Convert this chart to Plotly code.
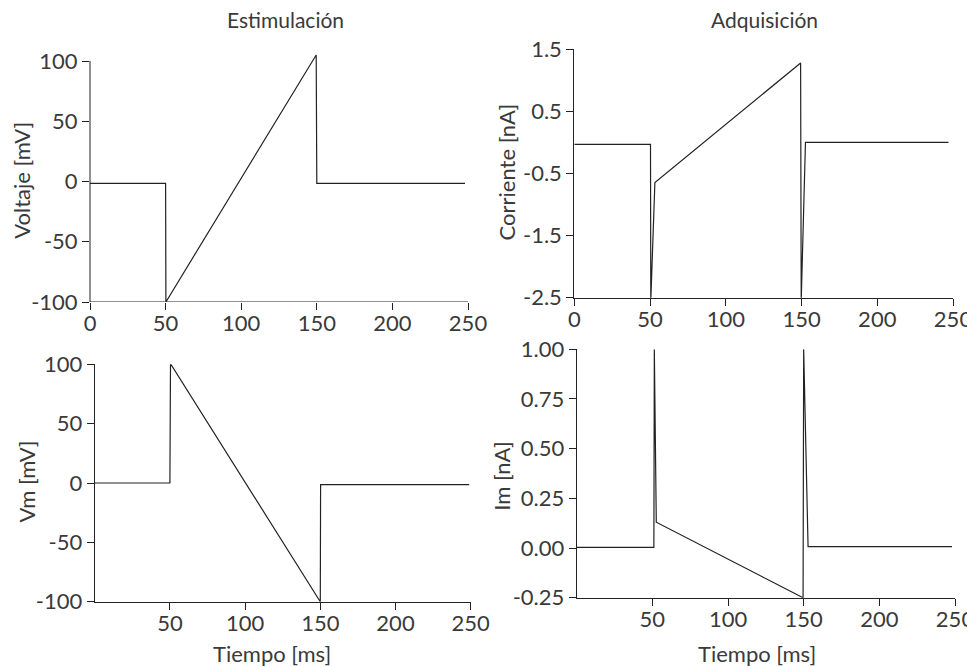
import plotly.graph_objects as go

# ---------------- data ----------------
t_voltaje = [0, 50, 50.2, 149.6, 150, 248]
voltaje = [-1.5, -1.5, -100, 105, -1.5, -1.5]

t_corriente = [0, 50.3, 50.5, 53.2, 149.4, 149.8, 152.6, 247]
corriente = [-0.03, -0.03, -2.55, -0.645, 1.28, -2.55, 0.0, 0.0]

t_vm = [0, 50, 50.4, 150, 150.2, 249]
vm = [0, 0, 100.5, -100, -1.3, -1.3]

t_im = [0, 51, 51.3, 52.6, 149.6, 150, 152.9, 248]
im = [0.003, 0.003, 1.0, 0.13, -0.25, 1.0, 0.007, 0.007]

x_ticks_top = [0, 50, 100, 150, 200, 250]
x_ticks_bottom = [50, 100, 150, 200, 250]
v_ticks = [-100, -50, 0, 50, 100]
v_labels = ["-100", "-50", "0", "50", "100"]
c_ticks = [-2.5, -1.5, -0.5, 0.5, 1.5]
c_labels = ["-2.5", "-1.5", "-0.5", "0.5", "1.5"]
im_ticks = [-0.25, 0.0, 0.25, 0.5, 0.75, 1.0]
im_labels = ["-0.25", "0.00", "0.25", "0.50", "0.75", "1.00"]

titles = ["Estimulación", "Adquisición"]
ylabels = ["Voltaje [mV]", "Corriente [nA]", "Vm [mV]", "Im [nA]"]
xlabel = "Tiempo [ms]"

# ---------------- layout helpers ----------------
OFF = 8                      # page body margin of the browser
W, H = 975 - OFF, 667 - OFF  # figure size so it fits the window
FONT = "Lato"
TXT = "#3a3a3a"
LINE = "#222222"


def xd(a, b):
    return [(a - OFF) / W, (b - OFF) / W]


def yd(top, bottom):
    return [1 - (bottom - OFF) / H, 1 - (top - OFF) / H]


def px(x):
    return (x - OFF) / W


def py(y):
    return 1 - (y - OFF) / H


fig = go.Figure()
fig.add_trace(go.Scatter(x=t_voltaje, y=voltaje, mode="lines", xaxis="x", yaxis="y",
                         line=dict(color=LINE, width=1.2), showlegend=False))
fig.add_trace(go.Scatter(x=t_corriente, y=corriente, mode="lines", xaxis="x2", yaxis="y2",
                         line=dict(color=LINE, width=1.2), showlegend=False))
fig.add_trace(go.Scatter(x=t_vm, y=vm, mode="lines", xaxis="x3", yaxis="y3",
                         line=dict(color=LINE, width=1.2), showlegend=False))
fig.add_trace(go.Scatter(x=t_im, y=im, mode="lines", xaxis="x4", yaxis="y4",
                         line=dict(color=LINE, width=1.2), showlegend=False))

tickfont = dict(family=FONT, size=22, color=TXT)
common = dict(ticks="outside", ticklen=7, tickwidth=1, tickcolor=LINE,
              linecolor=LINE, linewidth=1, showgrid=False, zeroline=False,
              tickfont=tickfont, fixedrange=True, tickmode="array", automargin=False)
xcommon = dict(common, ticklabelstandoff=-5)

fig.update_layout(
    template="none",
    width=W, height=H,
    margin=dict(l=0, r=0, t=0, b=0, autoexpand=False),
    paper_bgcolor="white", plot_bgcolor="white",
    font=dict(family=FONT, color=TXT),
    xaxis=dict(domain=xd(90, 468), anchor="y", range=[0, 250], tickvals=x_ticks_top,
               ticktext=[str(v) for v in x_ticks_top], showline=False, **xcommon),
    yaxis=dict(domain=yd(53.8, 302), anchor="x", range=[-100, 106], tickvals=v_ticks,
               ticktext=v_labels, showline=False, **common),
    xaxis2=dict(domain=xd(574.3, 953), anchor="y2", range=[0, 250], tickvals=x_ticks_top,
                ticktext=[str(v) for v in x_ticks_top], showline=True, **xcommon),
    yaxis2=dict(domain=yd(49.3, 297.7), anchor="x2", range=[-2.5, 1.5], tickvals=c_ticks,
                ticktext=c_labels, showline=True, **common),
    xaxis3=dict(domain=xd(94.7, 470.7), anchor="y3", range=[0, 250], tickvals=x_ticks_bottom,
                ticktext=[str(v) for v in x_ticks_bottom], showline=True, **xcommon),
    yaxis3=dict(domain=yd(364.3, 601.7), anchor="x3", range=[-100, 100], tickvals=v_ticks,
                ticktext=v_labels, showline=True, **common),
    xaxis4=dict(domain=xd(576.7, 955), anchor="y4", range=[0, 250], tickvals=x_ticks_bottom,
                ticktext=[str(v) for v in x_ticks_bottom], showline=True, **xcommon),
    yaxis4=dict(domain=yd(349.3, 597.7), anchor="x4", range=[-0.25, 1.0], tickvals=im_ticks,
                ticktext=im_labels, showline=True, **common),
)

# spines for the first panel (bounded to the tick range)
fig.add_shape(type="line", xref="x", yref="y", x0=0, x1=250, y0=-100, y1=-100,
              line=dict(color=LINE, width=1))
fig.add_shape(type="line", xref="x domain", yref="y", x0=0, x1=0, y0=-100, y1=100,
              line=dict(color=LINE, width=1))

# titles
ann = []
for title, (tx, ty) in zip(titles, [(285, 20), (764.5, 20)]):
    ann.append(dict(text=title, x=px(tx), y=py(ty), xref="paper", yref="paper",
                    showarrow=False, xanchor="center", yanchor="middle",
                    font=dict(family=FONT, size=21, color=TXT)))
ylab_pos = [(21.7, 180), (506.7, 171.7), (26.7, 481.7), (500.7, 476)]
for lab, (lx, ly) in zip(ylabels, ylab_pos):
    ann.append(dict(text=lab, x=px(lx), y=py(ly), xref="paper", yref="paper",
                    showarrow=False, xanchor="center", yanchor="middle", textangle=-90,
                    font=dict(family=FONT, size=22, color=TXT)))
for lx in (271.6, 756.7):
    ann.append(dict(text=xlabel, x=px(lx), y=py(653), xref="paper", yref="paper",
                    showarrow=False, xanchor="center", yanchor="middle",
                    font=dict(family=FONT, size=22, color=TXT)))
fig.update_layout(annotations=ann)

fig.write_html("out.html")
